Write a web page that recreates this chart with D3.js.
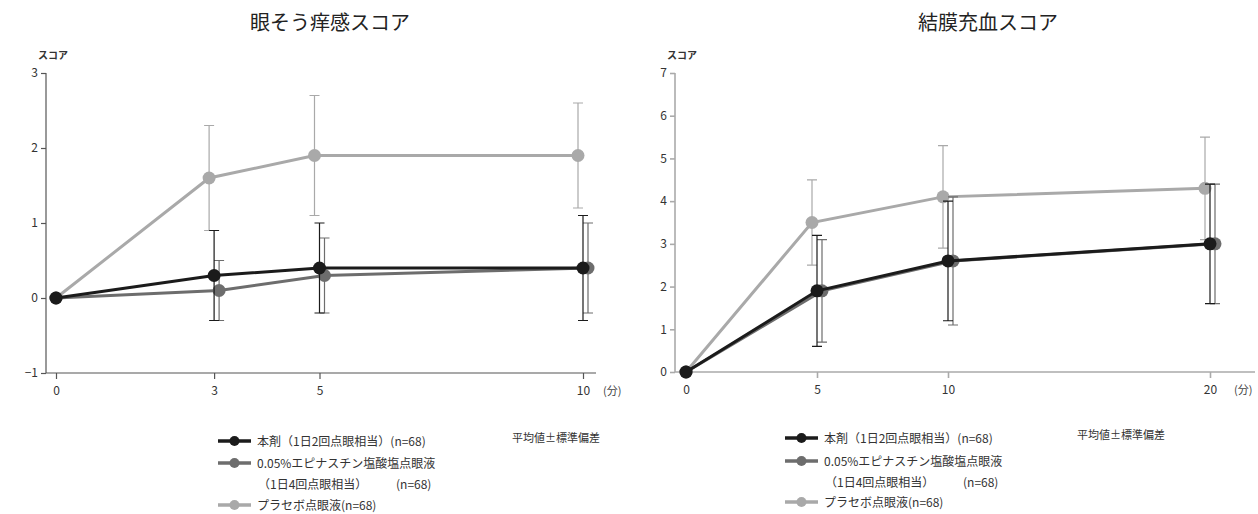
<!DOCTYPE html>
<html>
<head>
<meta charset="utf-8">
<script src="https://cdn.jsdelivr.net/npm/d3@7"></script>
<style>
  body { margin: 0; background: #fff; }
  svg text { font-family: "Noto Sans CJK JP", "Noto Sans", sans-serif; }
</style>
</head>
<body>
<svg id="chart" width="1258" height="514"></svg>
<script>
// left panel: 眼そう痒感スコア
const itchTimes = [0, 3, 5, 10]
const itchHonzai = [0, 0.3, 0.4, 0.4]
const itchHonzaiSd = [0, 0.6, 0.6, 0.7]
const itchEpina = [0, 0.1, 0.3, 0.4]
const itchEpinaSd = [0, 0.4, 0.5, 0.6]
const itchPlacebo = [0, 1.6, 1.9, 1.9]
const itchPlaceboSd = [0, 0.7, 0.8, 0.7]
const itchYTicks = [-1, 0, 1, 2, 3]

// right panel: 結膜充血スコア
const rednessTimes = [0, 5, 10, 20]
const rednessHonzai = [0, 1.9, 2.6, 3.0]
const rednessHonzaiSd = [0, 1.3, 1.4, 1.4]
const rednessEpina = [0, 1.9, 2.6, 3.0]
const rednessEpinaSd = [0, 1.2, 1.5, 1.4]
const rednessPlacebo = [0, 3.5, 4.1, 4.3]
const rednessPlaceboSd = [0, 1.0, 1.2, 1.2]
const rednessYTicks = [0, 1, 2, 3, 4, 5, 6, 7]

const seriesNames = ["本剤（1日2回点眼相当）(n=68)", "0.05%エピナスチン塩酸塩点眼液", "プラセボ点眼液(n=68)"]
const colors = ["#1b1b1b", "#6d6d6d", "#a9a9a9"]
const offsets = [0, 5, -5]

const svg = d3.select("#chart")

function drawPanel(opt) {
    let g = svg.append("g")
    let x = d3.scaleLinear().domain(opt.xDomain).range(opt.xRange)
    let y = d3.scaleLinear().domain(opt.yDomain).range(opt.yRange)

    // axes
    let yAxis = g.append("g").attr("transform", `translate(${opt.axisX},0)`)
        .call(d3.axisLeft(y).tickValues(opt.yTicks).tickSize(5).tickFormat(d => d < 0 ? "−" + Math.abs(d) : d))
    let xAxis = g.append("g").attr("transform", `translate(0,${y(opt.yDomain[0])})`)
        .call(d3.axisBottom(x).tickValues(opt.times).tickSize(6))
    g.selectAll(".domain").remove()
    g.append("line").attr("x1", opt.axisX).attr("x2", opt.axisX)
        .attr("y1", y(opt.yDomain[1])).attr("y2", y(opt.yDomain[0]))
        .attr("stroke", opt.axisColor).attr("stroke-width", opt.axisWidth)
    g.append("line").attr("x1", opt.axisX).attr("x2", opt.xEnd)
        .attr("y1", y(opt.yDomain[0])).attr("y2", y(opt.yDomain[0]))
        .attr("stroke", opt.axisColor).attr("stroke-width", opt.axisWidth)
    g.selectAll(".tick line").attr("stroke", opt.axisColor).attr("stroke-width", opt.axisWidth)
    g.selectAll(".tick text").attr("fill", "#333").style("font-size", "12px")
    xAxis.selectAll(".tick text").attr("dy", "1.05em")

    g.append("text").attr("x", opt.axisX - 8).attr("y", y(opt.yDomain[1]) - 14)
        .attr("font-size", 10).attr("font-weight", "bold").attr("fill", "#333").text("スコア")
    g.append("text").attr("x", opt.unitX).attr("y", y(opt.yDomain[0]) + 22)
        .attr("font-size", 11).attr("fill", "#444").text("(分)")
    g.append("text").attr("x", opt.titleX).attr("y", 30).attr("text-anchor", "middle")
        .attr("font-size", 20).attr("fill", "#222").text(opt.title)

    // series: placebo first, then epinastine, then 本剤 on top
    let order = [2, 1, 0]
    order.forEach(i => {
        let vals = opt.series[i], sds = opt.sds[i]
        let pts = opt.times.map((t, j) => ({t: t, v: vals[j], sd: sds[j]}))
        let sg = g.append("g")
        let px = d => x(d.t) + (d.t === 0 ? 0 : offsets[i])
        sg.selectAll(".err").data(pts.filter(d => d.sd > 0)).join("path")
            .attr("d", d => {
                let cx = px(d), t = y(d.v + d.sd), b = y(d.v - d.sd)
                return `M${cx},${t}V${b}M${cx - 5},${t}H${cx + 5}M${cx - 5},${b}H${cx + 5}`
            })
            .attr("fill", "none").attr("stroke", colors[i]).attr("stroke-width", 1.2)
        sg.append("path").datum(pts)
            .attr("d", d3.line().x(px).y(d => y(d.v)))
            .attr("fill", "none").attr("stroke", colors[i]).attr("stroke-width", 3)
        sg.selectAll("circle").data(pts).join("circle")
            .attr("cx", px).attr("cy", d => y(d.v)).attr("r", 6.5)
            .attr("fill", colors[i])
    })

    // legend
    let lg = g.append("g")
    let rows = [opt.legendY[0], opt.legendY[1], opt.legendY[3]]
    rows.forEach((ry, i) => {
        lg.append("line").attr("x1", opt.legendX).attr("x2", opt.legendX + 33)
            .attr("y1", ry).attr("y2", ry).attr("stroke", colors[i]).attr("stroke-width", 3.5)
        lg.append("circle").attr("cx", opt.legendX + 16.5).attr("cy", ry).attr("r", 5).attr("fill", colors[i])
        lg.append("text").attr("x", opt.legendX + 39).attr("y", ry + 4.5)
            .attr("font-size", 12).attr("fill", "#333").text(seriesNames[i])
    })
    lg.append("text").attr("x", opt.legendX + 40).attr("y", opt.legendY[2] + 4.5)
        .attr("font-size", 12).attr("fill", "#333").text("（1日4回点眼相当）")
    lg.append("text").attr("x", opt.legendX + 178).attr("y", opt.legendY[2] + 4.5)
        .attr("font-size", 12).attr("fill", "#333").text("(n=68)")
    lg.append("text").attr("x", opt.noteX).attr("y", opt.legendY[0] + 1)
        .attr("font-size", 11).attr("fill", "#333").text("平均値±標準偏差")
}

drawPanel({
    title: "眼そう痒感スコア", titleX: 330,
    times: itchTimes, series: [itchHonzai, itchEpina, itchPlacebo],
    sds: [itchHonzaiSd, itchEpinaSd, itchPlaceboSd],
    xDomain: [0, 10], xRange: [56, 583], yDomain: [-1, 3], yRange: [373, 73], yTicks: itchYTicks,
    axisX: 46, xEnd: 596, unitX: 603, axisColor: "#555", axisWidth: 1.2,
    legendX: 218, legendY: [441, 463, 484, 505], noteX: 512
})

drawPanel({
    title: "結膜充血スコア", titleX: 988,
    times: rednessTimes, series: [rednessHonzai, rednessEpina, rednessPlacebo],
    sds: [rednessHonzaiSd, rednessEpinaSd, rednessPlaceboSd],
    xDomain: [0, 20], xRange: [686, 1210], yDomain: [0, 7], yRange: [372, 73], yTicks: rednessYTicks,
    axisX: 675, xEnd: 1255, unitX: 1234, axisColor: "#aaa", axisWidth: 1.6,
    legendX: 785, legendY: [438, 461, 482, 502], noteX: 1077
})
</script>
</body>
</html>
